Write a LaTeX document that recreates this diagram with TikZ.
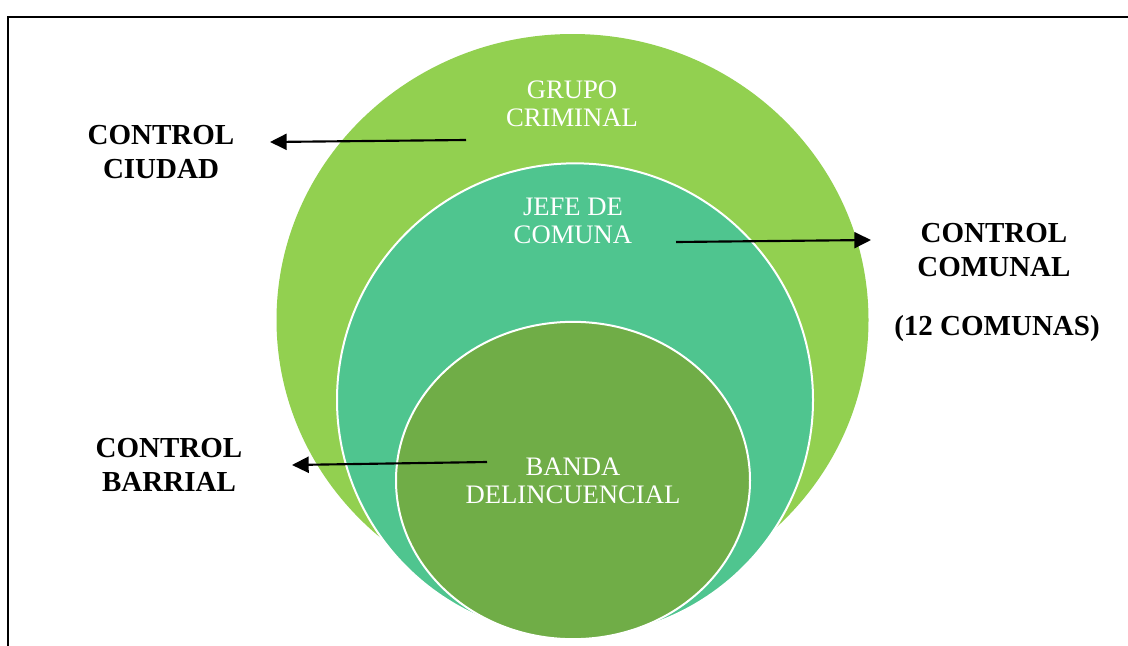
\documentclass[tikz,border=0pt]{standalone}
\usepackage{fontspec}
\setmainfont{Liberation Serif}
\usetikzlibrary{arrows.meta,shapes.geometric}
\definecolor{outergreen}{HTML}{92D050}
\definecolor{tealgreen}{HTML}{4FC58F}
\definecolor{innergreen}{HTML}{70AD47}
\begin{document}
\begin{tikzpicture}[x=0.75pt,y=-0.75pt,
  ring/.style={ellipse, draw=white, line width=1.5pt, inner sep=0pt, outer sep=0pt},
  whitelabel/.style={text=white, align=center, inner sep=0pt, font=\fontsize{20}{21}\selectfont},
  blacklabel/.style={text=black, align=center, inner sep=0pt, font=\fontsize{21.75}{25.5}\selectfont\bfseries},
  pointer/.style={-{Triangle[length=12.5pt,width=12pt]}, line width=1.6pt, black}]
\useasboundingbox (0,0) rectangle (1128,646);
\fill[white] (0,0) rectangle (1128,646);
% frame
\draw[line width=1.2pt] (8,646) -- (8,17) -- (1128,17);
% rings
\node[ring, draw=none, fill=outergreen, minimum width=444pt, minimum height=429pt] (outer) at (572.5,320) {};
\node[ring, fill=tealgreen, minimum width=357pt, minimum height=355pt] (middle) at (575,400) {};
\node[ring, fill=innergreen, minimum width=265.5pt, minimum height=238pt] (inner) at (573,480.5) {};
% ring labels
\node[whitelabel] (grupo) at (572,104) {GRUPO\\CRIMINAL};
\node[whitelabel] (jefe) at (573,221) {JEFE DE\\COMUNA};
\node[whitelabel] (banda) at (573,480.5) {BANDA\\DELINCUENCIAL};
% outside labels
\node[blacklabel] (ciudad) at (161,152) {CONTROL\\CIUDAD};
\node[blacklabel] (barrial) at (169,465) {CONTROL\\BARRIAL};
\node[blacklabel] (comunal) at (994,250.5) {CONTROL\\COMUNAL};
\node[blacklabel] (doce) at (997,329) {(12 COMUNAS)};
% arrows
\coordinate (a1s) at (466,140);
\coordinate (a1e) at (270,142);
\coordinate (a2s) at (676,242);
\coordinate (a2e) at (871,240);
\coordinate (a3s) at (487,462);
\coordinate (a3e) at (292,465);
\draw[pointer] (a1s) -- (a1e);
\draw[pointer] (a2s) -- (a2e);
\draw[pointer] (a3s) -- (a3e);
\end{tikzpicture}
\end{document}
